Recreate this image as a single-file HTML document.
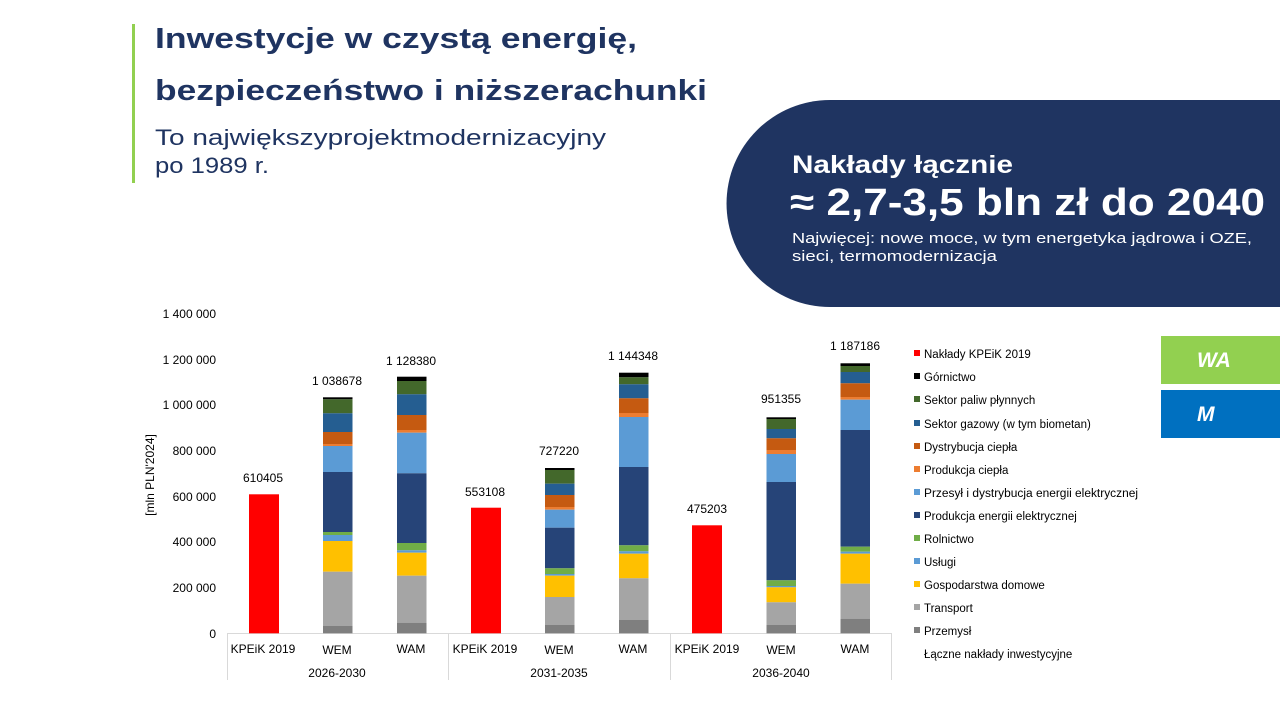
<!DOCTYPE html>
<html><head><meta charset="utf-8"><style>
body{margin:0;width:1280px;height:720px;overflow:hidden;background:#fff;font-family:"Liberation Sans",sans-serif}
</style></head><body>
<svg width="1280" height="720" xmlns="http://www.w3.org/2000/svg" font-family="Liberation Sans, sans-serif">
<rect x="132" y="24" width="3" height="159" fill="#92d050"/>
<text x="155" y="48" font-size="29" font-weight="bold" fill="#1f3461" textLength="482" lengthAdjust="spacingAndGlyphs">Inwestycje w czystą energię,</text>
<text x="155" y="100" font-size="29" font-weight="bold" fill="#1f3461" textLength="552" lengthAdjust="spacingAndGlyphs">bezpieczeństwo i niższerachunki</text>
<text x="155" y="145" font-size="22" fill="#1f3461" textLength="451" lengthAdjust="spacingAndGlyphs">To największyprojektmodernizacyjny</text>
<text x="155" y="173" font-size="22" fill="#1f3461" textLength="114" lengthAdjust="spacingAndGlyphs">po 1989 r.</text>
<path d="M830,100 H1280 V307 H830 A103.5,103.5 0 0 1 830,100 Z" fill="#1f3461"/>
<text x="792" y="173" font-size="25" font-weight="bold" fill="#fff" textLength="221" lengthAdjust="spacingAndGlyphs">Nakłady łącznie</text>
<text x="790" y="215" font-size="38" font-weight="bold" fill="#fff" textLength="475" lengthAdjust="spacingAndGlyphs">≈ 2,7-3,5 bln zł do 2040</text>
<text x="792" y="243" font-size="15" fill="#fff" textLength="460" lengthAdjust="spacingAndGlyphs">Najwięcej: nowe moce, w tym energetyka jądrowa i OZE,</text>
<text x="792" y="261" font-size="15" fill="#fff" textLength="205" lengthAdjust="spacingAndGlyphs">sieci, termomodernizacja</text>
<rect x="1161" y="336" width="119" height="48" fill="#92d050"/>
<text x="1197" y="367" font-size="21" font-weight="bold" font-style="italic" fill="#fff">WA</text>
<rect x="1161" y="390" width="119" height="48" fill="#0070c0"/>
<text x="1197" y="421" font-size="21" font-weight="bold" font-style="italic" fill="#fff">M</text>
<g font-size="12" fill="#000" text-anchor="end">
<text x="216" y="318">1 400 000</text><text x="216" y="364">1 200 000</text><text x="216" y="409">1 000 000</text>
<text x="216" y="455">800 000</text><text x="216" y="501">600 000</text><text x="216" y="546">400 000</text>
<text x="216" y="592">200 000</text><text x="216" y="638">0</text>
</g>
<text transform="translate(154,475) rotate(-90)" font-size="12" text-anchor="middle">[mln PLN'2024]</text>
<g stroke="#d9d9d9" stroke-width="1">
<line x1="227" y1="633.5" x2="892" y2="633.5"/>
<line x1="227.5" y1="633" x2="227.5" y2="680"/><line x1="448.5" y1="633" x2="448.5" y2="680"/>
<line x1="670.5" y1="633" x2="670.5" y2="680"/><line x1="891.5" y1="633" x2="891.5" y2="680"/>
</g>
<rect x="249" y="494.3" width="30" height="139" fill="#ff0000"/>
<rect x="471" y="507.7" width="30" height="125.6" fill="#ff0000"/>
<rect x="692" y="525.3" width="30" height="108" fill="#ff0000"/>
<g id="bars"></g>
<g font-size="12" text-anchor="middle">
<text x="263" y="482">610405</text><text x="337" y="385">1 038678</text><text x="411" y="365">1 128380</text>
<text x="485" y="496">553108</text><text x="559" y="455">727220</text><text x="633" y="360">1 144348</text>
<text x="707" y="513">475203</text><text x="781" y="403">951355</text><text x="855" y="350">1 187186</text>
<text x="263" y="653">KPEiK 2019</text><text x="337" y="654">WEM</text><text x="411" y="653">WAM</text>
<text x="485" y="653">KPEiK 2019</text><text x="559" y="654">WEM</text><text x="633" y="653">WAM</text>
<text x="707" y="653">KPEiK 2019</text><text x="781" y="654">WEM</text><text x="855" y="653">WAM</text>
<text x="337" y="677">2026-2030</text><text x="559" y="677">2031-2035</text><text x="781" y="677">2036-2040</text>
</g>
<g font-size="11.5">
<rect x="914" y="350" width="6" height="6" fill="#ff0000"/><text x="924" y="358">Nakłady KPEiK 2019</text>
<rect x="914" y="373" width="6" height="6" fill="#000"/><text x="924" y="381">Górnictwo</text>
<rect x="914" y="396" width="6" height="6" fill="#43682b"/><text x="924" y="404">Sektor paliw płynnych</text>
<rect x="914" y="420" width="6" height="6" fill="#255e91"/><text x="924" y="428">Sektor gazowy (w tym biometan)</text>
<rect x="914" y="443" width="6" height="6" fill="#c55a11"/><text x="924" y="451">Dystrybucja ciepła</text>
<rect x="914" y="466" width="6" height="6" fill="#ed7d31"/><text x="924" y="474">Produkcja ciepła</text>
<rect x="914" y="489" width="6" height="6" fill="#5b9bd5"/><text x="924" y="497" textLength="214" lengthAdjust="spacingAndGlyphs">Przesył i dystrybucja energii elektrycznej</text>
<rect x="914" y="512" width="6" height="6" fill="#264478"/><text x="924" y="520">Produkcja energii elektrycznej</text>
<rect x="914" y="535" width="6" height="6" fill="#70ad47"/><text x="924" y="543">Rolnictwo</text>
<rect x="914" y="558" width="6" height="6" fill="#5b9bd5"/><text x="924" y="566">Usługi</text>
<rect x="914" y="581" width="6" height="6" fill="#ffc000"/><text x="924" y="589">Gospodarstwa domowe</text>
<rect x="914" y="604" width="6" height="6" fill="#a5a5a5"/><text x="924" y="612">Transport</text>
<rect x="914" y="627" width="6" height="6" fill="#7f7f7f"/><text x="924" y="635">Przemysł</text>
<text x="924" y="658">Łączne nakłady inwestycyjne</text>
</g>
</svg>
<script>
var cols=["#000","#43682b","#255e91","#c55a11","#ed7d31","#5b9bd5","#264478","#70ad47","#5b9bd5","#ffc000","#a5a5a5","#7f7f7f"];
var bars=[[323,[397.3,399.3,413.3,432,444,446,472,532,535,541,571.7,626,633.3]],
[397,[376.7,381,394.3,415,430,432.7,473.3,543,550.3,552.7,575.7,622.7,633.3]],
[545,[468,470,483.7,495,507,509.7,527.7,568.3,574,575.7,597,625,633.3]],
[619,[372.7,377.3,384.3,398.3,413,417,467,545.3,551.3,553.7,578.3,620,633.3]],
[766.5,[417.3,419,429,438.3,450,454,482,580.3,586,587.3,602.3,625,633.3]],
[840.5,[363.3,366,372,383.3,397,399.7,430,546.7,551.7,553.7,583.7,618.7,633.3]]];
var g=document.getElementById("bars"),s="";
bars.forEach(function(b){for(var i=0;i<12;i++){s+='<rect x="'+b[0]+'" y="'+b[1][i]+'" width="29.5" height="'+(b[1][i+1]-b[1][i])+'" fill="'+cols[i]+'"/>';}});
g.innerHTML=s;
</script>
</body></html>
